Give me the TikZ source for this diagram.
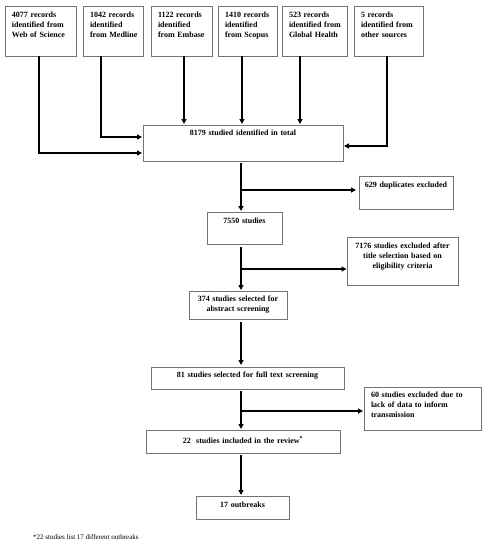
\documentclass[tikz,border=0pt]{standalone}
\usepackage{fontspec}
\setmainfont{Liberation Serif}
\usetikzlibrary{arrows.meta}
\definecolor{bordergray}{RGB}{115,115,115}
\newcommand{\boxline}[1]{\mbox{#1}}
\tikzset{
  box/.style={draw=bordergray, line width=0.7pt, anchor=north west,
    inner xsep=7pt, inner ysep=0pt, outer sep=0pt,
    font=\bfseries\fontsize{8}{10}\selectfont, text height=11.5pt,
    execute at begin node={\hyphenpenalty=10000\exhyphenpenalty=10000}},
  cbox/.style={box, inner xsep=2pt, align=center},
  lbox/.style={box, align=left},
  conn/.style={draw=black, line width=1.6pt,
    -{Triangle[length=5pt,width=5pt]}},
  foot/.style={anchor=west, inner sep=0pt, font=\fontsize{7}{8}\selectfont}
}
\begin{document}
\begin{tikzpicture}[x=1pt,y=-1pt]
\useasboundingbox (0,0) rectangle (485,550);
% source boxes
\node[lbox, text width=57pt, text depth=38.5pt] (s1) at (5,6)
  {\boxline{4077 records}\\\boxline{identified from}\\\boxline{Web of Science}};
\node[lbox, text width=46pt, text depth=38.5pt] (s2) at (83,6)
  {\boxline{1042 records}\\\boxline{identified}\\\boxline{from Medline}};
\node[lbox, text width=47pt, text depth=38.5pt] (s3) at (151,6)
  {\boxline{1122 records}\\\boxline{identified}\\\boxline{from Embase}};
\node[lbox, text width=45pt, text depth=38.5pt] (s4) at (218,6)
  {\boxline{1410 records}\\\boxline{identified}\\\boxline{from Scopus}};
\node[lbox, text width=51pt, text depth=38.5pt] (s5) at (282,6)
  {\boxline{523 records}\\\boxline{identified from}\\\boxline{Global Health}};
\node[lbox, text width=55pt, text depth=38.5pt] (s6) at (354,6)
  {\boxline{5 records}\\\boxline{identified from}\\\boxline{other sources}};
% flow boxes
\node[cbox, text width=196pt, text height=10.5pt, text depth=25.5pt] (total) at (143,125)
  {8179 studied identified in total};
\node[cbox, text width=90pt, text depth=21.5pt] (dup) at (359,176)
  {629 duplicates excluded};
\node[cbox, text width=71pt, text depth=20.5pt] (n7550) at (207,212)
  {7550 studies};
\node[cbox, text width=107pt, text depth=36.5pt] (ex2) at (347,237)
  {7176 studies excluded after\\title selection based on\\eligibility criteria};
\node[cbox, text width=94pt, text height=10.5pt, text depth=17.5pt] (n374) at (189,291)
  {374 studies selected for\\abstract screening};
\node[cbox, text width=189pt, text height=10.5pt, text depth=11.5pt] (n81) at (151,367)
  {81 studies selected for full text screening};
\node[lbox, text width=103pt, text height=10.5pt, text depth=32.5pt] (ex3) at (364,387)
  {\boxline{60 studies excluded due to}\\\boxline{lack of data to inform}\\\boxline{transmission}};
\node[cbox, text width=190pt, text height=13.5pt, text depth=9.5pt] (n22) at (146,430)
  {22\ \ studies included in the review\textsuperscript{*}};
\node[cbox, text width=89pt, text depth=11.5pt] (n17) at (196,496)
  {17 outbreaks};
\node[foot] (fn) at (33,537) {*22 studies list 17 different outbreaks};
% connectors from sources
\draw[conn, shorten >=1pt] ([xshift=-1.5pt]s1.south) |- ([yshift=-10pt]total.west);
\draw[conn, shorten >=1pt] ([xshift=-12pt]s2.south) |- ([yshift=6pt]total.west);
\draw[conn, shorten >=1pt] ([xshift=2.5pt]s3.south) -- ([xshift=2.5pt]s3.south |- total.north);
\draw[conn, shorten >=1pt] ([xshift=-5.5pt]s4.south) -- ([xshift=-5.5pt]s4.south |- total.north);
\draw[conn, shorten >=1pt] ([xshift=-14.5pt]s5.south) -- ([xshift=-14.5pt]s5.south |- total.north);
\draw[conn, shorten >=1pt] ([xshift=-1.5pt]s6.south) |- ([yshift=-3pt]total.east);
% main spine
\coordinate (sp) at (241,0);
\coordinate (j1) at (241,190);
\coordinate (j2) at (241,269);
\coordinate (j3) at (241,411);
\draw[conn, shorten <=2pt, shorten >=1pt] (total.south -| sp) -- (n7550.north -| sp);
\draw[conn, shorten >=3pt] (j1) -- (j1 -| dup.west);
\draw[conn, shorten <=3pt, shorten >=1pt] (n7550.south -| sp) -- (n374.north -| sp);
\draw[conn, shorten >=0.5pt] (j2) -- (j2 -| ex2.west);
\draw[conn, shorten <=3pt, shorten >=2pt] (n374.south -| sp) -- (n81.north -| sp);
\draw[conn, shorten <=2pt, shorten >=1pt] (n81.south -| sp) -- (n22.north -| sp);
\draw[conn, shorten >=1pt] (j3) -- (j3 -| ex3.west);
\draw[conn, shorten <=2pt, shorten >=1pt] (n22.south -| sp) -- (n17.north -| sp);
\end{tikzpicture}
\end{document}
